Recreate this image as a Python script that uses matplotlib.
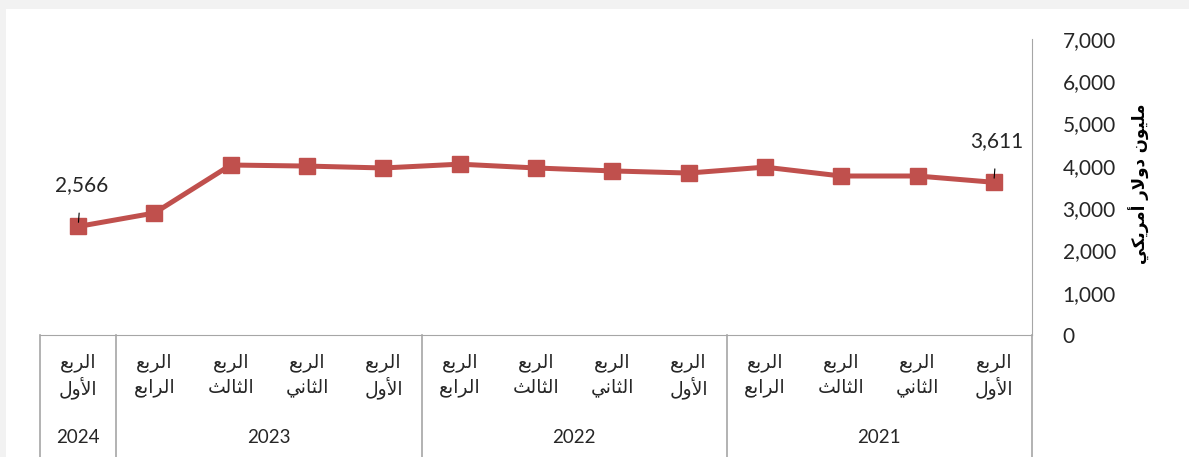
import matplotlib.pyplot as plt
from matplotlib.patches import Rectangle
from matplotlib.ticker import FuncFormatter

# data, oldest first (2021 Q1 sits on the right, the axis runs right to left)
quarters = ['الربع الأول', 'الربع الثاني', 'الربع الثالث', 'الربع الرابع',
            'الربع الأول', 'الربع الثاني', 'الربع الثالث', 'الربع الرابع',
            'الربع الأول', 'الربع الثاني', 'الربع الثالث', 'الربع الرابع',
            'الربع الأول']
years = ['2021', '2022', '2023', '2024']
year_sizes = [4, 4, 4, 1]
values = [3611, 3760, 3760, 3970, 3830, 3880, 3950, 4040, 3950, 3995, 4020, 2885, 2566]
labelled = [0, 12]
ylabel = 'مليون دولار أمريكي'

# --- tiny arabic shaper (matplotlib has no complex text layout) ---
FORMS = {  # isolated, final, initial, medial
    'ا': (0xFE8D, 0xFE8E), 'أ': (0xFE83, 0xFE84), 'د': (0xFEA9, 0xFEAA),
    'ر': (0xFEAD, 0xFEAE), 'و': (0xFEED, 0xFEEE),
    'ب': (0xFE8F, 0xFE90, 0xFE91, 0xFE92), 'ت': (0xFE95, 0xFE96, 0xFE97, 0xFE98),
    'ث': (0xFE99, 0xFE9A, 0xFE9B, 0xFE9C), 'ع': (0xFEC9, 0xFECA, 0xFECB, 0xFECC),
    'ك': (0xFED9, 0xFEDA, 0xFEDB, 0xFEDC), 'ل': (0xFEDD, 0xFEDE, 0xFEDF, 0xFEE0),
    'م': (0xFEE1, 0xFEE2, 0xFEE3, 0xFEE4), 'ن': (0xFEE5, 0xFEE6, 0xFEE7, 0xFEE8),
    'ي': (0xFEF1, 0xFEF2, 0xFEF3, 0xFEF4),
}
LAMALEF = {'ا': (0xFEFB, 0xFEFC), 'أ': (0xFEF7, 0xFEF8)}


def shape_word(w):
    # merge lam + alef into ligature tokens
    toks = []
    i = 0
    while i < len(w):
        if w[i] == 'ل' and i + 1 < len(w) and w[i + 1] in LAMALEF:
            toks.append(('LA', w[i + 1]))
            i += 2
        else:
            toks.append(('C', w[i]))
            i += 1

    def dual(t):
        return t[0] == 'C' and len(FORMS[t[1]]) == 4

    out = []
    for k, t in enumerate(toks):
        prev_joins = k > 0 and dual(toks[k - 1])
        next_exists = k + 1 < len(toks)
        if t[0] == 'LA':
            f = LAMALEF[t[1]]
            out.append(chr(f[1] if prev_joins else f[0]))
            continue
        f = FORMS[t[1]]
        if len(f) == 2:
            out.append(chr(f[1] if prev_joins else f[0]))
        else:
            if prev_joins and next_exists:
                out.append(chr(f[3]))
            elif prev_joins:
                out.append(chr(f[1]))
            elif next_exists:
                out.append(chr(f[2]))
            else:
                out.append(chr(f[0]))
    return ''.join(reversed(out))


def ar(text):
    return ' '.join(shape_word(w) for w in reversed(text.split(' ')))


red = '#C0504D'
grid_col = '#A6A6A6'
num_font = 'Lato'

fig = plt.figure(figsize=(11.89, 4.57), dpi=100, facecolor='#F2F2F2')
fig.patches.append(Rectangle((6 / 1189, 0), 1, 1 - 9 / 457, transform=fig.transFigure,
                             facecolor='white', edgecolor='none', zorder=-10))

ax = fig.add_axes([40 / 1189, (457 - 335) / 457, (1032 - 40) / 1189, (335 - 39) / 457])
ax.set_facecolor('none')

x = list(range(len(values)))
ax.plot(x, values, color=red, lw=3.6, marker='s', markersize=12,
        markerfacecolor=red, markeredgecolor=red, zorder=3)

ax.set_xlim(12.5, -0.5)
ax.set_ylim(0, 7000)
ax.set_yticks(range(0, 7001, 1000))
ax.yaxis.set_major_formatter(FuncFormatter(lambda v, p: f'{int(v):,}'))
ax.yaxis.tick_right()
ax.tick_params(axis='y', length=0, pad=22, labelsize=15, labelcolor='#262626')
for lab in ax.get_yticklabels():
    lab.set_fontfamily(num_font)
    lab.set_horizontalalignment('left')
ax.set_xticks([])

for s in ['top', 'left']:
    ax.spines[s].set_visible(False)
ax.spines['bottom'].set_color(grid_col)
ax.spines['right'].set_color(grid_col)
ax.spines['right'].set_bounds(0, 7000)

ax.set_ylabel(ar(ylabel), fontsize=12, fontweight='bold', family='DejaVu Sans',
              rotation=90, labelpad=0)
ax.yaxis.set_label_position('right')
ax.yaxis.set_label_coords(1.098, 0.51)

# data labels with leader lines
for i in labelled:
    ax.annotate(f'{values[i]:,}', xy=(x[i], values[i]), xytext=(x[i] - 0.04, values[i] + 980),
                ha='center', va='center', fontsize=15, family=num_font, color='#262626',
                arrowprops=dict(arrowstyle='-', color='black', lw=0.8, shrinkA=11, shrinkB=3))

# category table under the axis
trans = ax.get_xaxis_transform()
depth = -(457 - 335) / (335 - 39)
start = 0
bounds = [-0.5]
for y_lab, n in zip(years, year_sizes):
    centre = start + (n - 1) / 2
    ax.text(centre, -0.345, y_lab, transform=trans, ha='center', va='center',
            fontsize=13.5, family=num_font, color='#262626')
    start += n
    bounds.append(start - 0.5)
for b in bounds:
    ax.plot([b, b], [0, depth], transform=trans, color=grid_col, lw=1.2, clip_on=False)

for i, q in enumerate(quarters):
    w1, w2 = q.split(' ')
    ax.text(x[i], -0.092, ar(w1), transform=trans, ha='center', va='center',
            fontsize=13.5, family='DejaVu Sans', color='#262626')
    ax.text(x[i], -0.178, ar(w2), transform=trans, ha='center', va='center',
            fontsize=13.5, family='DejaVu Sans', color='#262626')

plt.savefig('out.png', dpi=100, facecolor=fig.get_facecolor())
